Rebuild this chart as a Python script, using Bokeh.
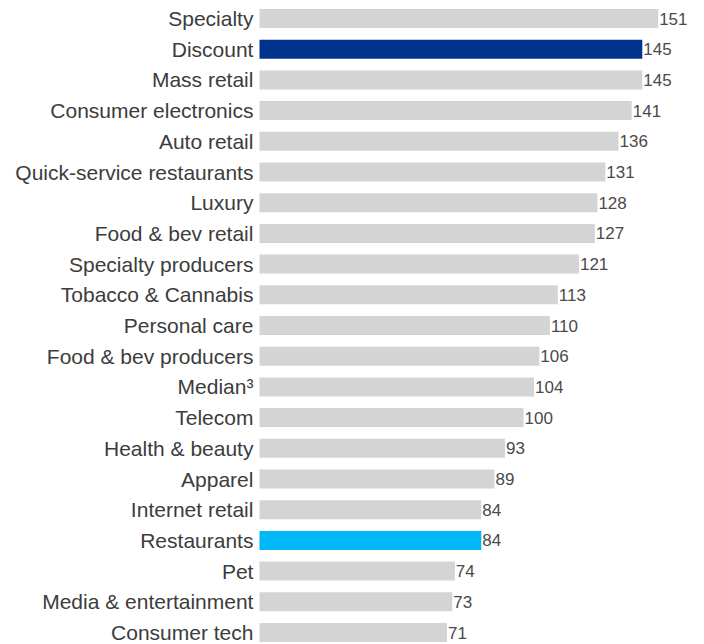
from bokeh.plotting import figure
from bokeh.models import ColumnDataSource, Range1d
from bokeh.core.properties import value
from bokeh.embed import file_html
from bokeh.resources import INLINE

categories = ["Specialty", "Discount", "Mass retail", "Consumer electronics", "Auto retail",
              "Quick-service restaurants", "Luxury", "Food & bev retail", "Specialty producers",
              "Tobacco & Cannabis", "Personal care", "Food & bev producers", "Median³",
              "Telecom", "Health & beauty", "Apparel", "Internet retail", "Restaurants",
              "Pet", "Media & entertainment", "Consumer tech"]
values = [151, 145, 145, 141, 136, 131, 128, 127, 121, 113, 110, 106, 104, 100, 93, 89, 84, 84, 74, 73, 71]
highlight = {"Discount": "#00338D", "Restaurants": "#00B8F5"}

colors = [highlight.get(c, "#D4D4D4") for c in categories]
ys = list(range(len(categories)))
src = ColumnDataSource(dict(cat=categories, val=values, y=ys, color=colors,
                            txt=[str(v) for v in values]))

W, H = 704, 644
zero_px = 259
ppu = 2.64
row0 = 18.0
pitch = 30.7

p = figure(width=W, height=H, output_backend="svg", toolbar_location=None,
           x_range=Range1d(-zero_px / ppu, (W - zero_px) / ppu),
           y_range=Range1d((H - row0) / pitch, -row0 / pitch),
           min_border=0, outline_line_color=None)
p.axis.visible = False
p.grid.visible = False

p.hbar(y="y", left=0, right="val", height=0.62, color="color", line_color=None, source=src)
p.text(x=-2.3, y="y", text="cat", source=src, text_align="right", text_baseline="middle",
       text_font=value("Liberation Sans"), text_font_size="21px", text_color="#3c3c3c")
p.text(x="val", y="y", text="txt", source=src, x_offset=1, text_align="left", text_baseline="middle",
       text_font=value("Liberation Sans"), text_font_size="17px", text_color="#4a4a4a")

open("out.html", "w").write(file_html(p, INLINE))
